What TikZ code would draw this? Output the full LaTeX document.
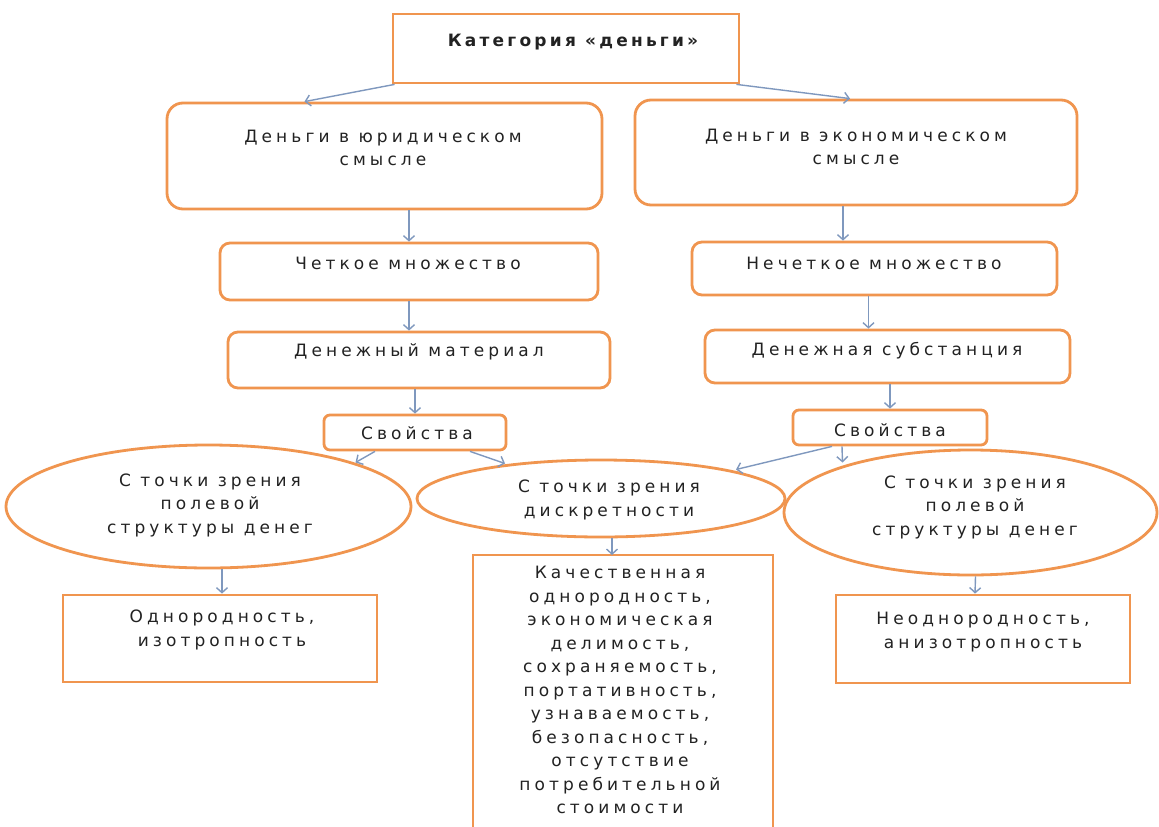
\documentclass[tikz,border=0pt]{standalone}
\usepackage{fontspec}
\setmainfont{DejaVu Sans}[LetterSpace=24]
\newfontfamily\titlefont{DejaVu Sans}[LetterSpace=19]
\usetikzlibrary{arrows.meta,shapes.geometric,calc}
\definecolor{orng}{HTML}{F0954F}
\definecolor{arrc}{HTML}{7F98BE}
\definecolor{txt}{HTML}{222222}
\begin{document}
\begin{tikzpicture}[x=1pt,y=-1pt,
  shp/.style={draw=orng,line width=2.8pt,fill=white,inner sep=0pt},
  rbox/.style={shp,rectangle,rounded corners=#1},
  rbox/.default=16pt,
  sbox/.style={shp,rectangle},
  ell/.style={shp,ellipse},
  lbl/.style={inner sep=0pt,align=center,text=txt,font=\fontsize{17}{23.5}\selectfont},
  arr/.style={draw=arrc,line width=1.4pt,-{Straight Barb[length=5pt,width=11pt,line width=1.4pt]}}
]
\useasboundingbox (0,0) rectangle (1159,827);
\fill[white] (0,0) rectangle (1159,827);

% shapes
\node[sbox,minimum width=346,minimum height=69] (top) at (566,48.5) {};
\node[rbox,minimum width=435,minimum height=106] (jur) at (384.5,156) {};
\node[rbox,minimum width=442,minimum height=105] (eco) at (856,152.5) {};
\node[rbox=10pt,minimum width=378,minimum height=57] (chk) at (409,271.5) {};
\node[rbox=10pt,minimum width=365,minimum height=53] (nchk) at (874.5,268.5) {};
\node[rbox=10pt,minimum width=382,minimum height=56] (mat) at (419,360) {};
\node[rbox=10pt,minimum width=365,minimum height=53] (sub) at (887.5,356.5) {};
\node[rbox=6pt,minimum width=182,minimum height=35] (sv1) at (415,432.5) {};
\node[rbox=6pt,minimum width=194,minimum height=35] (sv2) at (890,427.5) {};
\node[ell,minimum width=368,minimum height=77] (el2) at (601,498.5) {};
\node[ell,minimum width=405,minimum height=123] (el1) at (208.5,506.5) {};
\node[ell,minimum width=373,minimum height=125] (el3) at (970.5,512.5) {};
\node[sbox,minimum width=314,minimum height=87] (b1) at (220,638.5) {};
\node[sbox,minimum width=294,minimum height=88] (b3) at (983,639) {};
\coordinate (b2tl) at (473,555);
\coordinate (b2tr) at (773,555);
\coordinate (b2bl) at (473,832);
\coordinate (b2br) at (773,832);
\coordinate (b2) at (623,555);
\fill[white] (b2bl) rectangle (b2tr);
\draw[orng,line width=2.8pt] (b2bl) -- (b2tl) -- (b2tr) -- (b2br);

% texts
\node[lbl,font=\titlefont\bfseries\fontsize{17}{20}\selectfont] (ttop) at (573,42) {Категория «деньги»};
\node[lbl] (tjur) at (383,148) {Деньги в юридическом\\смысле};
\node[lbl] (teco) at (856,147) {Деньги в экономическом\\смысле};
\node[lbl] (tchk) at (408,263) {Четкое множество};
\node[lbl] (tnchk) at (874,263) {Нечеткое множество};
\node[lbl] (tmat) at (419,352) {Денежный материал};
\node[lbl] (tsub) at (887,351) {Денежная субстанция};
\node[lbl] (tsv1) at (417,433) {Свойства};
\node[lbl] (tsv2) at (890,430) {Свойства};
\node[lbl] (tel1) at (210,505) {С точки зрения\\полевой\\структуры денег};
\node[lbl] (tel2) at (609,500) {С точки зрения\\дискретности};
\node[lbl] (tel3) at (975,507) {С точки зрения\\полевой\\структуры денег};
\node[lbl] (tb1) at (222,630) {Однородность,\\изотропность};
\node[lbl] (tb3) at (983,632) {Неоднородность,\\анизотропность};
\node[lbl] (tb2) at (620,690) {Качественная\\однородность,\\экономическая\\делимость,\\сохраняемость,\\портативность,\\узнаваемость,\\безопасность,\\отсутствие\\потребительной\\стоимости};

% connectors
\draw[arr] ([xshift=3pt]top.south west) -- ($(jur.north)+(-80,0)$);
\draw[arr] ([xshift=-4pt]top.south east) -- ($(eco.north)+(-6,0)$);
\draw[arr] (chk.north |- jur.south) -- (chk.north);
\draw[arr] ([xshift=-13pt]eco.south) -- ([xshift=-13pt]eco.south |- nchk.north);
\draw[arr] (chk.south) -- (chk.south |- mat.north);
\draw[arr] ([xshift=-6pt]nchk.south) -- ([xshift=-6pt]nchk.south |- sub.north);
\draw[arr] (sv1.north |- mat.south) -- (sv1.north);
\draw[arr] (sv2.north |- sub.south) -- (sv2.north);
\draw[arr] ([xshift=-40pt]sv1.south) -- ($(el1.center)+(147,-44)$);
\draw[arr] ([xshift=55pt]sv1.south) -- ($(el2.center)+(-96,-35)$);
\draw[arr] ([xshift=-58pt]sv2.south) -- ($(el2.center)+(135,-29)$);
\draw[arr] ([xshift=-48pt]sv2.south) -- ($(el3.center)+(-128,-50)$);
\draw[arr] (el1.south -| tb1.center) -- (b1.north -| tb1.center);
\draw[arr] ($(el2.south)+(11,0)$) -- ($(b2)+(-11,0)$);
\draw[arr] ($(el3.south)+(5,0)$) -- ($(b3.north)+(-8,0)$);
\end{tikzpicture}
\end{document}
